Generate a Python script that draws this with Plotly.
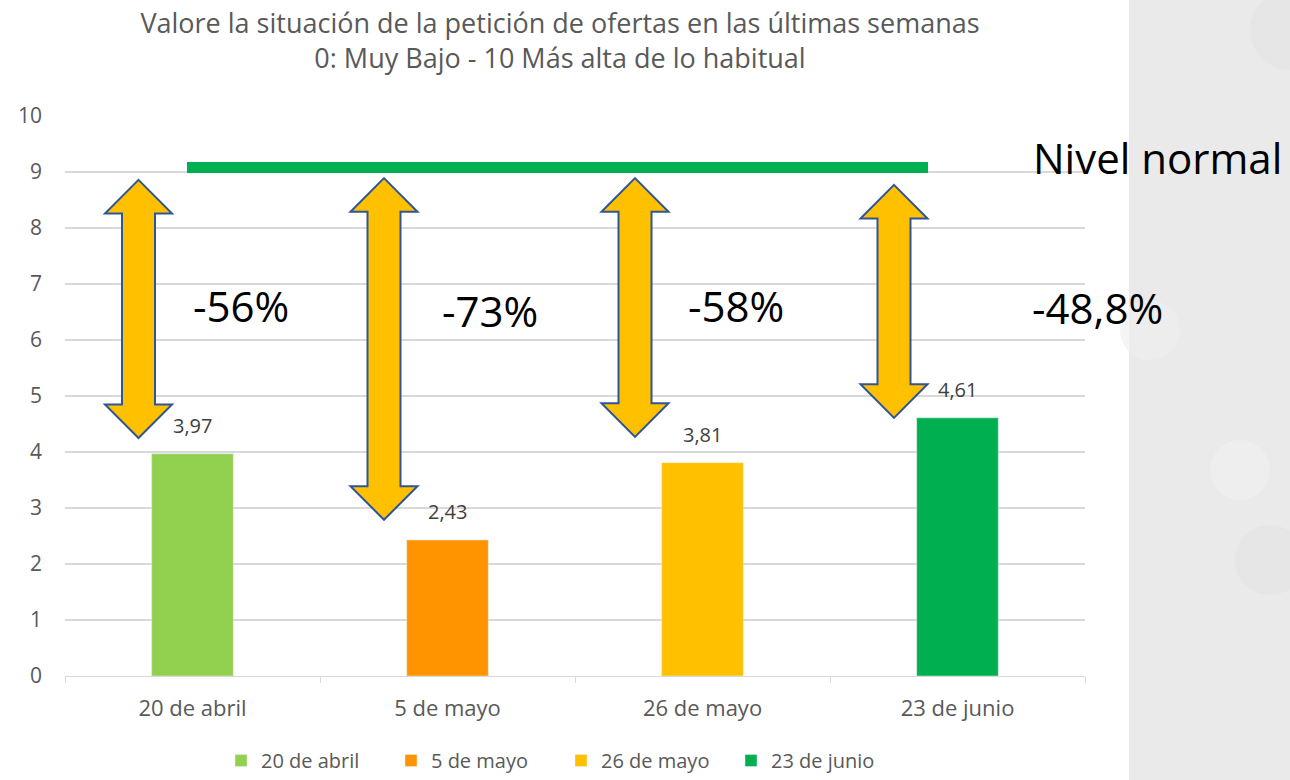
import plotly.graph_objects as go

# ---- data ----
categories = ["20 de abril", "5 de mayo", "26 de mayo", "23 de junio"]
values = [3.97, 2.43, 3.81, 4.61]
bar_colors = ["#92d050", "#ff9400", "#ffc000", "#00b050"]
nivel_normal = 9.08
pct_labels = ["-56%", "-73%", "-58%", "-48,8%"]
arrow_top = [8.86, 8.89, 8.89, 8.77]
arrow_bottom = [4.25, 2.79, 4.27, 4.61]
# ---- layout helpers (pixel geometry) ----
W, H = 1290, 780
L, R = 65, 1085          # plot area x in px
T, B = 116, 676          # plot area y in px


def px2paper(x):
    return (x - L) / (R - L)


def py2data(y):
    return (B - y) / (B - T) * 10


fig = go.Figure()
for cat, v, c in zip(categories, values, bar_colors):
    fig.add_trace(go.Bar(
        x=[cat], y=[v], name=cat, marker_color=c, width=0.32,
    ))

shapes = []
# gray right panel
shapes.append(dict(type="rect", xref="paper", yref="paper",
                   x0=px2paper(1129), x1=px2paper(1295),
                   y0=(B - H - 5) / (B - T), y1=(B + 5) / (B - T),
                   fillcolor="#eaeaea", line=dict(width=0), layer="below"))
for cx, cy, r, col in [(1290, 30, 40, "#e3e3e3"), (1240, 470, 30, "#f0f0f0"),
                       (1270, 560, 35, "#e2e2e2"), (1150, 330, 30, "#efefef")]:
    shapes.append(dict(type="circle", xref="paper", yref="paper",
                       x0=px2paper(cx - r), x1=px2paper(cx + r),
                       y0=(B - cy - r) / (B - T), y1=(B - cy + r) / (B - T),
                       fillcolor=col, line=dict(width=0), layer="below", opacity=0.6))

# green "nivel normal" line
shapes.append(dict(type="line", xref="paper", yref="y",
                   x0=px2paper(187), x1=px2paper(928),
                   y0=nivel_normal, y1=nivel_normal,
                   line=dict(color="#00b050", width=11)))

# double arrows
arrow_cx = [138.5, 384, 635, 894]
head_half = 33.5
shaft_half = 16.5
head_h = 0.6
for cx, top, bot in zip(arrow_cx, arrow_top, arrow_bottom):
    xl, xr = px2paper(cx - head_half), px2paper(cx + head_half)
    sl, sr = px2paper(cx - shaft_half), px2paper(cx + shaft_half)
    xc = px2paper(cx)
    path = (f"M {xc},{top} L {xr},{top - head_h} L {sr},{top - head_h} "
            f"L {sr},{bot + head_h} L {xr},{bot + head_h} L {xc},{bot} "
            f"L {xl},{bot + head_h} L {sl},{bot + head_h} L {sl},{top - head_h} "
            f"L {xl},{top - head_h} Z")
    shapes.append(dict(type="path", xref="paper", yref="y", path=path,
                       fillcolor="#ffc000", line=dict(color="#2f5597", width=2)))

annotations = []
# data labels above bars
for cat, v in zip(categories, values):
    annotations.append(dict(text=f"{v:.2f}".replace(".", ","), x=cat, y=v, xref="x", yref="y",
                            showarrow=False, yanchor="middle", yshift=28,
                            font=dict(size=20, color="#404040", family="Open Sans")))
lab_pos = [(241, 305), (490, 310), (736, 305), (1097, 307)]
for (lx, ly), t in zip(lab_pos, pct_labels):
    annotations.append(dict(text=t, xref="paper", yref="y", x=px2paper(lx), y=py2data(ly),
                            showarrow=False, font=dict(size=42, color="#000000", family="Open Sans"),
                            xanchor="center", yanchor="middle"))
annotations.append(dict(text="Nivel normal", xref="paper", yref="y", x=px2paper(1157),
                        y=py2data(157), showarrow=False,
                        font=dict(size=42, color="#000000", family="Open Sans"),
                        xanchor="center", yanchor="middle"))

fig.update_layout(
    width=W, height=H,
    margin=dict(l=L, r=W - R, t=T, b=H - B, pad=0),
    paper_bgcolor="white", plot_bgcolor="white",
    separators=",.",
    barmode="overlay",
    title=dict(text="Valore la situación de la petición de ofertas en las últimas semanas<br>0: Muy Bajo - 10 Más alta de lo habitual",
               x=560 / W, xanchor="center",
               y=1 - 33 / H, yanchor="middle",
               font=dict(size=27, color="#595959", family="Open Sans")),
    shapes=shapes,
    annotations=annotations,
    showlegend=True,
    legend=dict(orientation="h", xref="container", yref="container",
                x=561 / W, xanchor="center",
                y=0, yanchor="bottom",
                font=dict(size=20, color="#595959", family="Open Sans"),
                itemwidth=30, entrywidth=125, tracegroupgap=0),
    xaxis=dict(showgrid=False, showline=True, linecolor="#d9d9d9", linewidth=1,
               ticks="outside", tickson="boundaries", ticklen=6, tickcolor="#d9d9d9",
               tickfont=dict(size=22, color="#595959", family="Open Sans"),
               ticklabelstandoff=13, fixedrange=True, automargin=False),
    yaxis=dict(range=[0, 10], dtick=1, showgrid=True, gridcolor="#d9d9d9", gridwidth=1.5,
               zeroline=False, showline=False,
               tickfont=dict(size=21, color="#595959", family="Open Sans"),
               ticklabelstandoff=22, fixedrange=True, automargin=False),
)

fig.write_html("out.html", config={"displayModeBar": False},
               post_script="document.body.style.margin='0';document.body.style.overflow='hidden';")
